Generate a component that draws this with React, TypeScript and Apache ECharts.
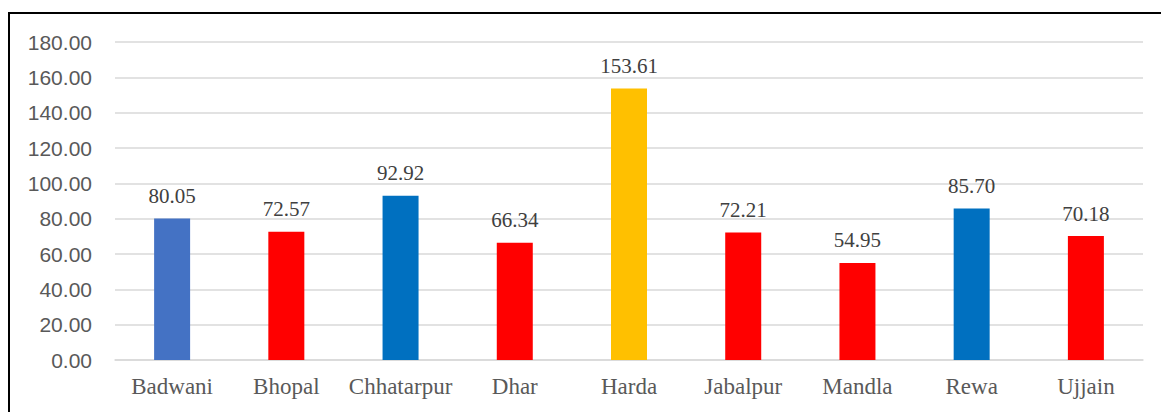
import React, { useEffect, useRef } from "react";
import * as echarts from "echarts";

const categories = ["Badwani", "Bhopal", "Chhatarpur", "Dhar", "Harda", "Jabalpur", "Mandla", "Rewa", "Ujjain"];
const values = [80.05, 72.57, 92.92, 66.34, 153.61, 72.21, 54.95, 85.7, 70.18];
const barColors = ["#4472C4", "#FF0000", "#0070C0", "#FF0000", "#FFC000", "#FF0000", "#FF0000", "#0070C0", "#FF0000"];

export default function App() {
  const ref = useRef<HTMLDivElement>(null);
  useEffect(() => {
    const chart = echarts.init(ref.current!, null, { renderer: "svg" });
    chart.setOption({
      animation: false,
      backgroundColor: "#FFFFFF",
      graphic: [
        {
          type: "rect",
          shape: { x: 9, y: 13, width: 1200, height: 450 },
          style: { fill: "none", stroke: "#000000", lineWidth: 2 },
          silent: true,
        },
      ],
      grid: { left: 115, right: 18, top: 42, bottom: 52, containLabel: false },
      xAxis: {
        type: "category",
        data: categories,
        axisLine: { show: true, lineStyle: { color: "#D9D9D9", width: 1.5 } },
        axisTick: { show: false },
        axisLabel: {
          interval: 0,
          fontFamily: "Liberation Serif",
          fontSize: 23,
          color: "#595959",
          margin: 15,
        },
      },
      yAxis: {
        type: "value",
        min: 0,
        max: 180,
        interval: 20,
        axisLine: { show: false },
        axisTick: { show: false },
        splitLine: { lineStyle: { color: "#D9D9D9", width: 1.5 } },
        axisLabel: {
          fontFamily: "Liberation Sans",
          fontSize: 21,
          color: "#595959",
          margin: 23,
          formatter: (v: number) => v.toFixed(2),
        },
      },
      series: [
        {
          type: "bar",
          data: values.map((v, i) => ({ value: v, itemStyle: { color: barColors[i] } })),
          barWidth: 36,
          label: {
            show: true,
            position: "top",
            distance: 12,
            fontFamily: "Liberation Serif",
            fontSize: 21,
            color: "#404040",
            formatter: (p: any) => p.value.toFixed(2),
          },
        },
      ],
    });
    return () => chart.dispose();
  }, []);
  return (
    <div
      ref={ref}
      style={{ position: "fixed", left: 0, top: 0, width: 1161, height: 412, background: "#fff" }}
    />
  );
}
